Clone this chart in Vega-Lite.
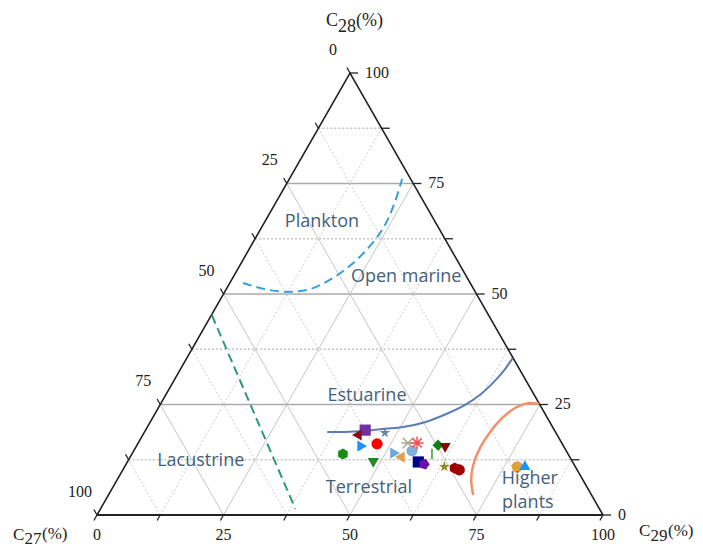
{
  "$schema": "https://vega.github.io/schema/vega-lite/v6.json",
  "width": 506,
  "height": 442,
  "autosize": "none",
  "padding": {"left": 97, "top": 73, "right": 100, "bottom": 33},
  "background": "white",
  "config": {"view": {"stroke": null}},
  "datasets": {
    "grid": [{"v": 12.5}, {"v": 25}, {"v": 37.5}, {"v": 50}, {"v": 62.5}, {"v": 75}, {"v": 87.5}],
    "ticks": [{"v": 0}, {"v": 12.5}, {"v": 25}, {"v": 37.5}, {"v": 50}, {"v": 62.5}, {"v": 75}, {"v": 87.5}, {"v": 100}],
    "labels": [{"v": 0}, {"v": 25}, {"v": 50}, {"v": 75}, {"v": 100}],
    "one": [{"k": 1}],
    "frame": [
      {"i": 0, "c28": 0, "c29": 0},
      {"i": 1, "c28": 100, "c29": 0},
      {"i": 2, "c28": 0, "c29": 100}
    ],
    "curves": [
      {"curve": "plankton", "i": 0, "c28": 52.5, "c29": 2.6},
      {"curve": "plankton", "i": 1, "c28": 51.1, "c29": 7.6},
      {"curve": "plankton", "i": 2, "c28": 50.5, "c29": 12.3},
      {"curve": "plankton", "i": 3, "c28": 51.1, "c29": 16.5},
      {"curve": "plankton", "i": 4, "c28": 53.6, "c29": 19.8},
      {"curve": "plankton", "i": 5, "c28": 56.8, "c29": 22.0},
      {"curve": "plankton", "i": 6, "c28": 60.4, "c29": 23.4},
      {"curve": "plankton", "i": 7, "c28": 64.9, "c29": 24.1},
      {"curve": "plankton", "i": 8, "c28": 70.1, "c29": 23.6},
      {"curve": "plankton", "i": 9, "c28": 76.0, "c29": 22.3},
      {"curve": "lacustrine", "i": 0, "c28": 45.2, "c29": 0.1},
      {"curve": "lacustrine", "i": 1, "c28": 1.4, "c29": 38.5},
      {"curve": "estuarine", "i": 0, "c28": 18.8, "c29": 36.1},
      {"curve": "estuarine", "i": 1, "c28": 18.8, "c29": 39.6},
      {"curve": "estuarine", "i": 2, "c28": 19.0, "c29": 43.1},
      {"curve": "estuarine", "i": 3, "c28": 19.5, "c29": 47.2},
      {"curve": "estuarine", "i": 4, "c28": 19.9, "c29": 50.5},
      {"curve": "estuarine", "i": 5, "c28": 21.0, "c29": 54.3},
      {"curve": "estuarine", "i": 6, "c28": 22.9, "c29": 57.7},
      {"curve": "estuarine", "i": 7, "c28": 24.9, "c29": 60.3},
      {"curve": "estuarine", "i": 8, "c28": 27.2, "c29": 62.1},
      {"curve": "estuarine", "i": 9, "c28": 29.9, "c29": 63.3},
      {"curve": "estuarine", "i": 10, "c28": 32.8, "c29": 64.1},
      {"curve": "estuarine", "i": 11, "c28": 35.5, "c29": 64.4},
      {"curve": "higher", "i": 0, "c28": 25.1, "c29": 74.8},
      {"curve": "higher", "i": 1, "c28": 25.3, "c29": 72.5},
      {"curve": "higher", "i": 2, "c28": 24.2, "c29": 70.5},
      {"curve": "higher", "i": 3, "c28": 21.9, "c29": 69.1},
      {"curve": "higher", "i": 4, "c28": 18.8, "c29": 68.3},
      {"curve": "higher", "i": 5, "c28": 15.2, "c29": 68.1},
      {"curve": "higher", "i": 6, "c28": 11.3, "c29": 68.7},
      {"curve": "higher", "i": 7, "c28": 7.9, "c29": 70.0},
      {"curve": "higher", "i": 8, "c28": 4.5, "c29": 72.1}
    ],
    "samples": [
      {"sample": "S1", "c27": 37.4, "c28": 19.2, "c29": 43.4},
      {"sample": "S2", "c27": 39.6, "c28": 18.1, "c29": 42.3},
      {"sample": "S3", "c27": 33.8, "c28": 18.6, "c29": 47.6},
      {"sample": "S4", "c27": 39.8, "c28": 15.6, "c29": 44.6},
      {"sample": "S5", "c27": 36.6, "c28": 16.1, "c29": 47.3},
      {"sample": "S6", "c27": 44.5, "c28": 13.8, "c29": 41.7},
      {"sample": "S7", "c27": 39.5, "c28": 11.8, "c29": 48.7},
      {"sample": "S8", "c27": 34.1, "c28": 14.0, "c29": 51.9},
      {"sample": "S9", "c27": 33.6, "c28": 13.1, "c29": 53.3},
      {"sample": "S10", "c27": 30.5, "c28": 14.5, "c29": 55.0},
      {"sample": "S11", "c27": 30.4, "c28": 16.3, "c29": 53.3},
      {"sample": "S12", "c27": 28.6, "c28": 16.3, "c29": 55.1},
      {"sample": "S13", "c27": 24.7, "c28": 15.8, "c29": 59.5},
      {"sample": "S14", "c27": 23.6, "c28": 15.2, "c29": 61.2},
      {"sample": "S15", "c27": 26.9, "c28": 13.8, "c29": 59.3},
      {"sample": "S16", "c27": 30.5, "c28": 12.0, "c29": 57.5},
      {"sample": "S17", "c27": 29.6, "c28": 11.5, "c29": 58.9},
      {"sample": "S18", "c27": 25.9, "c28": 10.9, "c29": 63.2},
      {"sample": "S19", "c27": 24.0, "c28": 10.6, "c29": 65.4},
      {"sample": "S20", "c27": 23.3, "c28": 10.2, "c29": 66.5},
      {"sample": "S21", "c27": 11.5, "c28": 10.9, "c29": 77.6},
      {"sample": "S22", "c27": 9.8, "c28": 11.3, "c29": 78.9}
    ],
    "regions": [
      {"name": "Plankton", "c28": 66.3, "c29": 11.3},
      {"name": "Open marine", "c28": 53.8, "c29": 34.2},
      {"name": "Estuarine", "c28": 26.9, "c29": 39.9},
      {"name": "Lacustrine", "c28": 12.2, "c29": 14.4},
      {"name": "Terrestrial", "c28": 6.1, "c29": 50.7},
      {"name": "Higher", "c28": 8.1, "c29": 81.5},
      {"name": "plants", "c28": 2.7, "c29": 83.8}
    ]
  },
  "layer": [
    {
      "data": {"name": "grid"},
      "transform": [
        {"calculate": "datum.v/2", "as": "x1"},
        {"calculate": "datum.v*0.8660254", "as": "y1"},
        {"calculate": "100-datum.v/2", "as": "x2"}
      ],
      "mark": {"type": "rule", "strokeWidth": 1.3},
      "encoding": {
        "x": {"field": "x1", "type": "quantitative", "scale": {"domain": [0, 100], "nice": false, "zero": false}, "axis": null},
        "y": {"field": "y1", "type": "quantitative", "scale": {"domain": [0, 86.6025], "nice": false, "zero": false}, "axis": null},
        "x2": {"field": "x2"},
        "y2": {"field": "y1"},
        "color": {"condition": {"test": "datum.v % 25 == 0", "value": "#ABABAB"}, "value": "#C4C4C4"},
        "strokeDash": {"condition": {"test": "datum.v % 25 == 0", "value": [1, 0]}, "value": [2, 2]}
      }
    },
    {
      "data": {"name": "grid"},
      "transform": [
        {"calculate": "datum.v", "as": "x1"},
        {"calculate": "50+datum.v/2", "as": "x2"},
        {"calculate": "(100-datum.v)*0.8660254", "as": "y2"},
        {"calculate": "0", "as": "y1"}
      ],
      "mark": {"type": "rule", "strokeWidth": 1},
      "encoding": {
        "x": {"field": "x1", "type": "quantitative", "axis": null},
        "y": {"field": "y1", "type": "quantitative", "axis": null},
        "x2": {"field": "x2"},
        "y2": {"field": "y2"},
        "color": {"condition": {"test": "datum.v % 25 == 0", "value": "#BDBDBD"}, "value": "#CACACA"},
        "strokeDash": {"condition": {"test": "datum.v % 25 == 0", "value": [1, 0]}, "value": [2, 2]}
      }
    },
    {
      "data": {"name": "grid"},
      "transform": [
        {"calculate": "100-datum.v", "as": "x1"},
        {"calculate": "(100-datum.v)/2", "as": "x2"},
        {"calculate": "(100-datum.v)*0.8660254", "as": "y2"},
        {"calculate": "0", "as": "y1"}
      ],
      "mark": {"type": "rule", "strokeWidth": 1},
      "encoding": {
        "x": {"field": "x1", "type": "quantitative", "axis": null},
        "y": {"field": "y1", "type": "quantitative", "axis": null},
        "x2": {"field": "x2"},
        "y2": {"field": "y2"},
        "color": {"condition": {"test": "datum.v % 25 == 0", "value": "#BDBDBD"}, "value": "#CACACA"},
        "strokeDash": {"condition": {"test": "datum.v % 25 == 0", "value": [1, 0]}, "value": [2, 2]}
      }
    },
    {
      "data": {"name": "frame"},
      "transform": [
        {"calculate": "datum.c29 + datum.c28/2", "as": "x"},
        {"calculate": "datum.c28*0.8660254", "as": "y"}
      ],
      "mark": {"type": "line", "color": "#222222", "strokeWidth": 1.6},
      "encoding": {
        "x": {"field": "x", "type": "quantitative", "axis": null},
        "y": {"field": "y", "type": "quantitative", "axis": null},
        "order": {"field": "i"}
      }
    },
    {
      "data": {"values": [{"a": 0, "b": 100}]},
      "mark": {"type": "rule", "color": "#222222", "strokeWidth": 2.2},
      "encoding": {
        "x": {"field": "a", "type": "quantitative", "axis": null},
        "x2": {"field": "b"},
        "y": {"datum": 0, "type": "quantitative", "axis": null}
      }
    },
    {
      "data": {"name": "ticks"},
      "transform": [
        {"calculate": "datum.v/2", "as": "x1"},
        {"calculate": "datum.v*0.8660254", "as": "y1"},
        {"calculate": "datum.v/2 - 0.62", "as": "x2"},
        {"calculate": "datum.v*0.8660254 + 1.08", "as": "y2"}
      ],
      "mark": {"type": "rule", "color": "#222222", "strokeWidth": 1.3},
      "encoding": {
        "x": {"field": "x1", "type": "quantitative", "axis": null},
        "y": {"field": "y1", "type": "quantitative", "axis": null},
        "x2": {"field": "x2"},
        "y2": {"field": "y2"}
      }
    },
    {
      "data": {"name": "ticks"},
      "transform": [
        {"calculate": "100-datum.v/2", "as": "x1"},
        {"calculate": "datum.v*0.8660254", "as": "y1"},
        {"calculate": "100-datum.v/2 + 1.6", "as": "x2"}
      ],
      "mark": {"type": "rule", "color": "#222222", "strokeWidth": 1.3},
      "encoding": {
        "x": {"field": "x1", "type": "quantitative", "axis": null},
        "y": {"field": "y1", "type": "quantitative", "axis": null},
        "x2": {"field": "x2"},
        "y2": {"field": "y1"}
      }
    },
    {
      "data": {"name": "ticks"},
      "transform": [
        {"calculate": "datum.v", "as": "x1"},
        {"calculate": "0", "as": "y1"},
        {"calculate": "datum.v - 0.62", "as": "x2"},
        {"calculate": "-1.08", "as": "y2"}
      ],
      "mark": {"type": "rule", "color": "#222222", "strokeWidth": 1.3},
      "encoding": {
        "x": {"field": "x1", "type": "quantitative", "axis": null},
        "y": {"field": "y1", "type": "quantitative", "axis": null},
        "x2": {"field": "x2"},
        "y2": {"field": "y2"}
      }
    },
    {
      "data": {"name": "labels"},
      "transform": [
        {"calculate": "datum.v/2", "as": "x"},
        {"calculate": "datum.v*0.8660254", "as": "y"},
        {"calculate": "toString(100-datum.v)", "as": "t"}
      ],
      "mark": {"type": "text", "font": "Liberation Serif", "fontSize": 16, "color": "#222222", "align": "center", "baseline": "middle", "dx": -17, "dy": -23},
      "encoding": {
        "x": {"field": "x", "type": "quantitative", "axis": null},
        "y": {"field": "y", "type": "quantitative", "axis": null},
        "text": {"field": "t"}
      }
    },
    {
      "data": {"name": "labels"},
      "transform": [
        {"calculate": "100-datum.v/2", "as": "x"},
        {"calculate": "datum.v*0.8660254", "as": "y"},
        {"calculate": "toString(datum.v)", "as": "t"}
      ],
      "mark": {"type": "text", "font": "Liberation Serif", "fontSize": 16, "color": "#222222", "align": "left", "baseline": "middle", "dx": 15, "dy": 0},
      "encoding": {
        "x": {"field": "x", "type": "quantitative", "axis": null},
        "y": {"field": "y", "type": "quantitative", "axis": null},
        "text": {"field": "t"}
      }
    },
    {
      "data": {"name": "labels"},
      "transform": [
        {"calculate": "datum.v", "as": "x"},
        {"calculate": "0", "as": "y"},
        {"calculate": "toString(datum.v)", "as": "t"}
      ],
      "mark": {"type": "text", "font": "Liberation Serif", "fontSize": 16, "color": "#222222", "align": "center", "baseline": "middle", "dy": 20},
      "encoding": {
        "x": {"field": "x", "type": "quantitative", "axis": null},
        "y": {"field": "y", "type": "quantitative", "axis": null},
        "text": {"field": "t"}
      }
    },
    {
      "data": {"name": "curves"},
      "transform": [
        {"filter": "datum.curve == 'plankton'"},
        {"calculate": "datum.c29 + datum.c28/2", "as": "x"},
        {"calculate": "datum.c28*0.8660254", "as": "y"}
      ],
      "mark": {"type": "line", "color": "#3A9FD6", "strokeWidth": 2, "strokeDash": [9, 5], "interpolate": "catmull-rom"},
      "encoding": {
        "x": {"field": "x", "type": "quantitative", "axis": null},
        "y": {"field": "y", "type": "quantitative", "axis": null},
        "order": {"field": "i"}
      }
    },
    {
      "data": {"name": "curves"},
      "transform": [
        {"filter": "datum.curve == 'lacustrine'"},
        {"calculate": "datum.c29 + datum.c28/2", "as": "x"},
        {"calculate": "datum.c28*0.8660254", "as": "y"}
      ],
      "mark": {"type": "line", "color": "#2E9970", "strokeWidth": 2, "strokeDash": [9, 5]},
      "encoding": {
        "x": {"field": "x", "type": "quantitative", "axis": null},
        "y": {"field": "y", "type": "quantitative", "axis": null},
        "order": {"field": "i"}
      }
    },
    {
      "data": {"name": "curves"},
      "transform": [
        {"filter": "datum.curve == 'estuarine'"},
        {"calculate": "datum.c29 + datum.c28/2", "as": "x"},
        {"calculate": "datum.c28*0.8660254", "as": "y"}
      ],
      "mark": {"type": "line", "color": "#5B7DB5", "strokeWidth": 2, "interpolate": "catmull-rom"},
      "encoding": {
        "x": {"field": "x", "type": "quantitative", "axis": null},
        "y": {"field": "y", "type": "quantitative", "axis": null},
        "order": {"field": "i"}
      }
    },
    {
      "data": {"name": "curves"},
      "transform": [
        {"filter": "datum.curve == 'higher'"},
        {"calculate": "datum.c29 + datum.c28/2", "as": "x"},
        {"calculate": "datum.c28*0.8660254", "as": "y"}
      ],
      "mark": {"type": "line", "color": "#F0916A", "strokeWidth": 2.5, "interpolate": "catmull-rom"},
      "encoding": {
        "x": {"field": "x", "type": "quantitative", "axis": null},
        "y": {"field": "y", "type": "quantitative", "axis": null},
        "order": {"field": "i"}
      }
    },
    {
      "data": {"name": "samples"},
      "transform": [
        {"filter": "datum.sample != 'S11' && datum.sample != 'S12' && datum.sample != 'S15'"},
        {"calculate": "datum.c29 + datum.c28/2", "as": "x"},
        {"calculate": "datum.c28*0.8660254", "as": "y"}
      ],
      "mark": {"type": "point", "filled": true, "opacity": 1, "size": 125, "strokeWidth": 0},
      "encoding": {
        "x": {"field": "x", "type": "quantitative", "axis": null},
        "y": {"field": "y", "type": "quantitative", "axis": null},
        "color": {
          "field": "sample", "type": "nominal", "legend": null,
          "scale": {
            "domain": ["S1", "S2", "S3", "S4", "S5", "S6", "S7", "S8", "S9", "S10", "S11", "S12", "S13", "S14", "S15", "S16", "S17", "S18", "S19", "S20", "S21", "S22"],
            "range": ["#7030A0", "#8B0A1A", "#6F87A8", "#1E90FF", "#FF0000", "#1A8C1A", "#1F8A1F", "#6FA8DC", "#E0A050", "#80B0E0", "#A9A98A", "#FF4D4D", "#138013", "#8B0000", "#2CA02C", "#00008B", "#6A0DAD", "#8E8E1E", "#A00000", "#A00000", "#E0A040", "#1E90FF"]
          }
        },
        "shape": {
          "field": "sample", "type": "nominal", "legend": null,
          "scale": {
            "domain": ["S1", "S2", "S3", "S4", "S5", "S6", "S7", "S8", "S9", "S10", "S11", "S12", "S13", "S14", "S15", "S16", "S17", "S18", "S19", "S20", "S21", "S22"],
            "range": [
              "square", "triangle-left",
              "M0,-1L0.225,-0.309L0.951,-0.309L0.363,0.118L0.588,0.809L0,0.382L-0.588,0.809L-0.363,0.118L-0.951,-0.309L-0.225,-0.309Z",
              "triangle-right", "circle",
              "M0,-1L0.866,-0.5L0.866,0.5L0,1L-0.866,0.5L-0.866,-0.5Z",
              "triangle-down", "triangle-right", "triangle-left", "circle",
              "M-0.8,-0.8L0.8,0.8M-0.8,0.8L0.8,-0.8M-1,0L1,0",
              "M-1,0L1,0M0,-1L0,1M-0.7,-0.7L0.7,0.7M-0.7,0.7L0.7,-0.7",
              "diamond", "triangle-down",
              "M0,-0.8L0,0.8",
              "square",
              "M1,0L0.309,0.951L-0.809,0.588L-0.809,-0.588L0.309,-0.951Z",
              "M0,-1L0.225,-0.309L0.951,-0.309L0.363,0.118L0.588,0.809L0,0.382L-0.588,0.809L-0.363,0.118L-0.951,-0.309L-0.225,-0.309Z",
              "M0,-1L0.866,-0.5L0.866,0.5L0,1L-0.866,0.5L-0.866,-0.5Z",
              "circle", "circle", "triangle-up"
            ]
          }
        }
      }
    },
    {
      "data": {"name": "samples"},
      "transform": [
        {"filter": "datum.sample == 'S11' || datum.sample == 'S12' || datum.sample == 'S15'"},
        {"calculate": "datum.c29 + datum.c28/2", "as": "x"},
        {"calculate": "datum.c28*0.8660254", "as": "y"}
      ],
      "mark": {"type": "point", "filled": false, "opacity": 1, "size": 170, "strokeWidth": 1.5},
      "encoding": {
        "x": {"field": "x", "type": "quantitative", "axis": null},
        "y": {"field": "y", "type": "quantitative", "axis": null},
        "color": {"field": "sample", "type": "nominal", "legend": null},
        "shape": {"field": "sample", "type": "nominal", "legend": null}
      }
    },
    {
      "data": {"name": "regions"},
      "transform": [
        {"calculate": "datum.c29 + datum.c28/2", "as": "x"},
        {"calculate": "datum.c28*0.8660254", "as": "y"}
      ],
      "mark": {"type": "text", "font": "Open Sans", "fontSize": 18, "color": "#44607C", "align": "center", "baseline": "middle"},
      "encoding": {
        "x": {"field": "x", "type": "quantitative", "axis": null},
        "y": {"field": "y", "type": "quantitative", "axis": null},
        "text": {"field": "name"}
      }
    },
    {
      "data": {"name": "one"},
      "mark": {"type": "text", "text": "C", "font": "Liberation Serif", "fontSize": 18, "color": "#222222", "align": "left", "baseline": "alphabetic", "dx": -24, "dy": -47},
      "encoding": {"x": {"datum": 50, "type": "quantitative", "axis": null}, "y": {"datum": 86.6025, "type": "quantitative", "axis": null}}
    },
    {
      "data": {"name": "one"},
      "mark": {"type": "text", "text": "28", "font": "Liberation Serif", "fontSize": 18, "color": "#222222", "align": "left", "baseline": "alphabetic", "dx": -12, "dy": -41},
      "encoding": {"x": {"datum": 50, "type": "quantitative", "axis": null}, "y": {"datum": 86.6025, "type": "quantitative", "axis": null}}
    },
    {
      "data": {"name": "one"},
      "mark": {"type": "text", "text": "(%)", "font": "Liberation Serif", "fontSize": 18, "color": "#222222", "align": "left", "baseline": "alphabetic", "dx": 6, "dy": -47},
      "encoding": {"x": {"datum": 50, "type": "quantitative", "axis": null}, "y": {"datum": 86.6025, "type": "quantitative", "axis": null}}
    },
    {
      "data": {"name": "one"},
      "mark": {"type": "text", "text": "C", "font": "Liberation Serif", "fontSize": 17, "color": "#222222", "align": "left", "baseline": "alphabetic", "dx": -84, "dy": 25},
      "encoding": {"x": {"datum": 0, "type": "quantitative", "axis": null}, "y": {"datum": 0, "type": "quantitative", "axis": null}}
    },
    {
      "data": {"name": "one"},
      "mark": {"type": "text", "text": "27", "font": "Liberation Serif", "fontSize": 17, "color": "#222222", "align": "left", "baseline": "alphabetic", "dx": -72.5, "dy": 29},
      "encoding": {"x": {"datum": 0, "type": "quantitative", "axis": null}, "y": {"datum": 0, "type": "quantitative", "axis": null}}
    },
    {
      "data": {"name": "one"},
      "mark": {"type": "text", "text": "(%)", "font": "Liberation Serif", "fontSize": 17, "color": "#222222", "align": "left", "baseline": "alphabetic", "dx": -55, "dy": 24},
      "encoding": {"x": {"datum": 0, "type": "quantitative", "axis": null}, "y": {"datum": 0, "type": "quantitative", "axis": null}}
    },
    {
      "data": {"name": "one"},
      "mark": {"type": "text", "text": "C", "font": "Liberation Serif", "fontSize": 17, "color": "#222222", "align": "left", "baseline": "alphabetic", "dx": 36, "dy": 21},
      "encoding": {"x": {"datum": 100, "type": "quantitative", "axis": null}, "y": {"datum": 0, "type": "quantitative", "axis": null}}
    },
    {
      "data": {"name": "one"},
      "mark": {"type": "text", "text": "29", "font": "Liberation Serif", "fontSize": 17, "color": "#222222", "align": "left", "baseline": "alphabetic", "dx": 47.5, "dy": 26},
      "encoding": {"x": {"datum": 100, "type": "quantitative", "axis": null}, "y": {"datum": 0, "type": "quantitative", "axis": null}}
    },
    {
      "data": {"name": "one"},
      "mark": {"type": "text", "text": "(%)", "font": "Liberation Serif", "fontSize": 17, "color": "#222222", "align": "left", "baseline": "alphabetic", "dx": 65, "dy": 21},
      "encoding": {"x": {"datum": 100, "type": "quantitative", "axis": null}, "y": {"datum": 0, "type": "quantitative", "axis": null}}
    }
  ]
}
